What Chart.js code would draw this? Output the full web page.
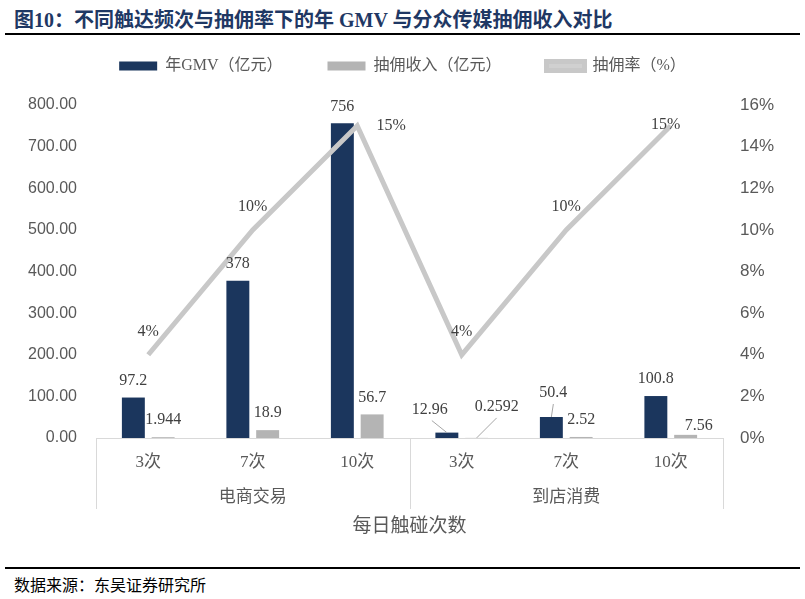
<!DOCTYPE html>
<html>
<head>
<meta charset="utf-8">
<script src="https://cdn.jsdelivr.net/npm/chart.js@4.4.1/dist/chart.umd.min.js"></script>
<style>
    body { margin: 0; width: 805px; height: 599px; background: #fff; position: relative; overflow: hidden; }
    .title { position: absolute; left: 14px; top: 4px; font: bold 20px "Liberation Serif", "Noto Sans CJK SC", serif; color: #1f3864; white-space: nowrap; }
    .rule { position: absolute; left: 5px; width: 795px; height: 2px; background: #000; }
    .source { position: absolute; left: 14px; top: 572px; font: 16px "Liberation Serif", "Noto Sans CJK SC", serif; color: #000; }
    .wrap { position: absolute; left: 0; top: 7px; width: 805px; height: 558px; }
</style>
</head>
<body>
<div class="title">图10：不同触达频次与抽佣率下的年 GMV 与分众传媒抽佣收入对比</div>
<div class="rule" style="top:33px"></div>
<div class="wrap"><canvas id="feeChart"></canvas></div>
<div class="rule" style="top:567px"></div>
<div class="source">数据来源：东吴证券研究所</div>
<script>
const categories = ['3次', '7次', '10次', '3次', '7次', '10次'];
const groups = ['电商交易', '到店消费'];
const gmv = [97.2, 378, 756, 12.96, 50.4, 100.8];
const commission = [1.944, 18.9, 56.7, 0.2592, 2.52, 7.56];
const commissionRate = [4, 10, 15, 4, 10, 15];

// label nudges [dx, dy, leader line]
const labelShift = {
    gmv: [[0, 0], [0, 0], [0, 0], [-17, -6, true], [2, -7, true], [0, 0]],
    commission: [[0, 0], [0, 0], [0, 0], [20, -14, true], [0, 0], [13, 8]],
    rate: [[0, 0], [0, 0], [34, 23], [0, 0], [0, 0], [-5, 22]],
};

const SERIF = '"Liberation Serif", "Times New Roman", "Noto Sans CJK SC", serif';
const SANS = '"Liberation Sans", Arial, "Noto Sans CJK SC", sans-serif';

const valueLabels = {
    id: 'valueLabels',
    afterDatasetsDraw(chart) {
        const ctx = chart.ctx;
        ctx.save();
        ctx.font = '16px ' + SERIF;
        ctx.fillStyle = '#404040';
        ctx.strokeStyle = '#a6a6a6';
        ctx.lineWidth = 1;
        ctx.textAlign = 'center';
        ctx.textBaseline = 'middle';
        chart.data.datasets.forEach((ds, di) => {
            const meta = chart.getDatasetMeta(di);
            const shifts = labelShift[ds.key];
            const isLine = ds.type === 'line';
            meta.data.forEach((el, i) => {
                const [dx, dy, lead] = shifts[i];
                const x = el.x + dx;
                const y = el.y - (isLine ? 23 : 17) + dy;
                ctx.fillText(isLine ? ds.data[i] + '%' : String(ds.data[i]), x, y);
                if (lead) {
                    ctx.beginPath();
                    ctx.moveTo(x + (dx < -5 ? 2 : 0), y + 11);
                    ctx.lineTo(el.x, el.y);
                    ctx.stroke();
                }
            });
        });
        ctx.restore();
    }
};

const groupLines = {
    id: 'groupLines',
    afterDraw(chart) {
        const x = chart.scales.x;
        const x2 = chart.scales.x2;
        const ctx = chart.ctx;
        const mid = (x.getPixelForValue(2) + x.getPixelForValue(3)) / 2;
        ctx.save();
        ctx.strokeStyle = '#d9d9d9';
        ctx.lineWidth = 1;
        [x.left, mid, x.right].forEach(px => {
            ctx.beginPath();
            ctx.moveTo(Math.round(px) + 0.5, chart.chartArea.bottom);
            ctx.lineTo(Math.round(px) + 0.5, x2.top + 31);
            ctx.stroke();
        });
        ctx.restore();
    }
};

// extra room between legend and plot
const legendGap = {
    id: 'legendGap',
    afterInit(chart) {
        const legend = chart.legend;
        const fit = legend.fit;
        legend.fit = function () {
            fit.call(this);
            this.height += 21;
        };
    }
};

Chart.defaults.font.family = SERIF;
Chart.defaults.color = '#595959';

new Chart(document.getElementById('feeChart'), {
    type: 'bar',
    data: {
        labels: categories,
        datasets: [
            {
                key: 'gmv',
                label: '年GMV（亿元）',
                data: gmv,
                backgroundColor: '#1b365d',
                barPercentage: 0.77,
                categoryPercentage: 0.57,
                order: 1,
            },
            {
                key: 'commission',
                label: '抽佣收入（亿元）',
                data: commission,
                backgroundColor: '#b4b4b4',
                barPercentage: 0.77,
                categoryPercentage: 0.57,
                order: 2,
            },
            {
                key: 'rate',
                type: 'line',
                label: '抽佣率（%）',
                data: commissionRate,
                yAxisID: 'y1',
                borderColor: '#c8c8c8',
                backgroundColor: '#d0d0d0',
                borderWidth: 5,
                pointRadius: 0,
                tension: 0,
                order: 0,
            },
        ],
    },
    options: {
        responsive: true,
        maintainAspectRatio: false,
        animation: false,
        layout: { padding: { top: 6, bottom: 27 } },
        plugins: {
            legend: {
                position: 'top',
                labels: {
                    sort: (a, b) => a.datasetIndex - b.datasetIndex,
                    boxWidth: 38,
                    boxHeight: 9,
                    padding: 45,
                    color: '#595959',
                    font: { size: 16, family: SERIF },
                },
            },
            tooltip: { enabled: false },
        },
        scales: {
            x: {
                grid: { display: false, drawTicks: false },
                border: { color: '#d9d9d9' },
                ticks: { padding: 14, color: '#595959', font: { size: 17 } },
                afterFit: s => { s.height = 40; },
            },
            x2: {
                type: 'category',
                labels: groups,
                offset: true,
                position: 'bottom',
                grid: { display: false, drawTicks: false },
                border: { display: false },
                ticks: { padding: 9, color: '#595959', font: { size: 17 } },
                title: { display: true, text: '每日触碰次数', color: '#595959', font: { size: 19 }, padding: { top: 0, bottom: 0 } },
                afterFit: s => { s.height = 60; },
            },
            y: {
                min: 0,
                max: 800,
                grid: { display: false, drawTicks: false },
                border: { display: false },
                ticks: { stepSize: 100, padding: 19, color: '#595959', font: { size: 16, family: SANS }, callback: v => v.toFixed(2) },
                afterFit: s => { s.width = 96; },
            },
            y1: {
                position: 'right',
                min: 0,
                max: 16,
                grid: { display: false, drawTicks: false },
                border: { display: false },
                ticks: { stepSize: 2, padding: 17, color: '#595959', font: { size: 17, family: SANS }, callback: v => v + '%' },
                afterFit: s => { s.width = 82; },
            },
        },
    },
    plugins: [valueLabels, groupLines, legendGap],
});
</script>
</body>
</html>
